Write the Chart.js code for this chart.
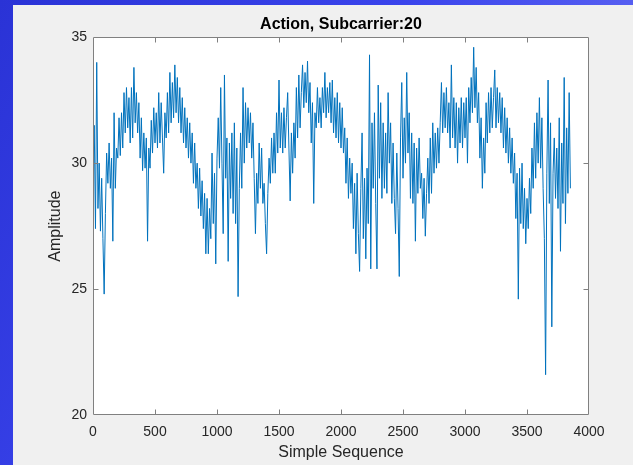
<!DOCTYPE html>
<html>
<head>
<meta charset="utf-8">
<script src="https://cdn.jsdelivr.net/npm/chart.js@4.4.1/dist/chart.umd.min.js"></script>
<style>
  html, body { margin: 0; padding: 0; width: 633px; height: 465px; overflow: hidden; }
  body { background: linear-gradient(120deg, #2a33d6 0%, #3a44ec 45%, #5b63f2 75%, #7a7cf4 100%); position: relative; }
  #panel { position: absolute; left: 13px; top: 5px; width: 620px; height: 460px; background: #f0f0f0; }
  #c { position: absolute; left: 0; top: 0; }
</style>
</head>
<body>
<div id="panel"></div>
<canvas id="c" width="633" height="465"></canvas>
<script>
// ---- data ----
const chartTitle = 'Action, Subcarrier:20';
const xAxisTitle = 'Simple Sequence';
const yAxisTitle = 'Amplitude';
const xTickRange = [0, 4000];
const xTickStep = 500;
const yTickRange = [20, 35];
const yTickStep = 5;
const sampleStep = 10; // one reading every 10 samples
const amplitude = [
  30.0,31.5,27.4,34.0,28.2,30.0,27.3,29.4,27.0,24.8,
  28.0,30.4,29.2,30.8,29.0,30.2,26.9,32.0,29.0,30.6,
  30.2,31.8,30.3,32.0,30.6,32.8,31.2,33.0,31.4,32.6,
  30.8,33.0,31.0,33.8,31.6,32.8,31.2,32.4,30.2,31.8,
  29.7,31.2,29.8,31.0,26.9,30.6,29.8,31.7,30.4,32.2,
  30.8,32.0,30.6,32.8,30.8,32.4,31.0,29.6,32.0,31.0,
  32.8,31.2,33.6,31.6,33.2,31.8,33.9,32.0,33.4,31.6,
  33.0,31.2,32.6,30.8,32.2,30.6,31.8,30.2,31.6,30.0,
  31.2,29.2,30.8,29.0,30.0,28.2,29.8,27.9,29.3,27.4,
  28.8,26.4,28.6,26.4,28.2,27.0,30.4,27.6,29.6,26.0,
  30.2,31.8,29.8,33.0,30.0,27.2,33.5,29.4,31.0,26.1,
  30.8,28.6,31.2,28.0,31.6,27.6,30.6,24.7,29.0,31.2,
  29.0,33.0,30.0,32.4,30.6,32.2,30.8,32.0,30.2,31.6,
  29.4,27.2,29.6,28.4,30.8,29.0,30.6,28.4,29.2,27.6,
  26.4,28.8,30.2,29.2,31.0,29.6,31.2,29.6,32.0,30.4,
  33.3,30.6,32.0,30.4,32.2,30.6,31.8,32.8,30.6,28.5,
  31.2,29.6,31.6,30.2,33.0,31.0,33.5,31.4,32.8,33.9,
  32.2,33.6,32.4,34.05,32.0,33.2,30.8,32.4,28.4,32.0,
  31.4,33.0,31.6,32.6,31.4,33.0,32.0,33.6,31.8,33.0,
  32.0,33.2,31.6,33.3,31.2,32.6,31.0,32.8,30.8,32.4,
  30.6,32.2,30.4,31.4,29.2,31.0,28.6,30.2,28.8,30.0,
  27.4,29.2,26.4,29.6,27.2,25.7,29.0,31.2,27.0,29.4,
  26.2,29.8,27.6,34.3,25.8,31.6,29.0,32.0,28.4,25.8,
  33.1,29.4,32.4,28.6,31.6,29.0,31.2,28.8,32.8,30.0,
  31.6,28.4,30.8,28.6,27.2,30.4,28.2,25.5,31.0,33.2,
  29.4,31.8,30.0,33.6,30.4,32.0,28.6,31.2,28.4,30.8,
  26.9,30.6,28.8,31.0,29.0,29.6,27.8,29.4,27.1,28.8,
  30.2,28.4,31.0,28.8,31.6,29.6,31.2,29.8,31.4,30.0,
  31.6,33.2,31.2,32.8,31.4,33.0,31.2,32.4,30.6,33.9,
  31.0,32.6,30.6,32.4,30.0,32.2,30.8,32.6,30.6,32.4,
  31.0,32.6,30.0,33.0,31.6,33.4,32.0,34.6,32.2,33.8,
  31.6,32.8,30.2,31.8,29.0,31.0,29.6,32.4,30.8,32.8,
  31.2,33.0,31.4,32.6,33.7,31.4,33.0,31.6,32.8,31.2,
  32.6,30.6,32.2,30.4,31.8,30.0,31.4,29.6,31.0,29.2,
  30.4,27.8,29.6,24.6,29.8,27.6,30.0,27.4,29.0,26.8,
  28.6,27.4,29.4,28.0,30.6,29.0,31.6,29.4,32.0,30.0,
  32.6,29.8,31.8,29.0,27.0,21.6,29.6,33.3,28.4,31.6,
  23.5,29.6,31.0,28.6,30.6,28.2,31.8,26.5,30.8,28.4,
  33.4,27.6,31.4,28.8,32.8,29.0
];

const points = amplitude.map((v, i) => ({ x: i * sampleStep, y: v }));
const FONT = '"Liberation Sans", Arial, Helvetica, sans-serif';
const TEXT = '#262626';

const boxPlugin = {
  id: 'matlabBox',
  beforeDraw(chart) {
    const { ctx, chartArea: a } = chart;
    ctx.save();
    ctx.fillStyle = '#ffffff';
    ctx.fillRect(a.left, a.top, a.right - a.left, a.bottom - a.top);
    ctx.restore();
  },
  afterDraw(chart) {
    const { ctx, chartArea: a, scales } = chart;
    ctx.save();
    ctx.strokeStyle = '#808080';
    ctx.lineWidth = 1;
    const L = Math.round(a.left) + 0.5, R = Math.round(a.right) - 0.5;
    const T = Math.round(a.top) + 0.5, B = Math.round(a.bottom) - 0.5;
    ctx.beginPath();
    ctx.rect(L, T, R - L, B - T);
    const tl = 5;
    scales.x.ticks.forEach(t => {
      if (t.value <= scales.x.min || t.value >= scales.x.max) return;
      const px = Math.round(scales.x.getPixelForValue(t.value)) + 0.5;
      ctx.moveTo(px, B); ctx.lineTo(px, B - tl);
      ctx.moveTo(px, T); ctx.lineTo(px, T + tl);
    });
    scales.y.ticks.forEach(t => {
      if (t.value <= scales.y.min || t.value >= scales.y.max) return;
      const py = Math.round(scales.y.getPixelForValue(t.value)) + 0.5;
      ctx.moveTo(L, py); ctx.lineTo(L + tl, py);
      ctx.moveTo(R, py); ctx.lineTo(R - tl, py);
    });
    ctx.stroke();
    ctx.restore();
  }
};

new Chart(document.getElementById('c'), {
  type: 'line',
  data: {
    datasets: [{
      data: points,
      borderColor: '#0072bd',
      borderWidth: 1,
      pointRadius: 0,
      tension: 0,
      fill: false
    }]
  },
  options: {
    responsive: false,
    animation: false,
    events: [],
    layout: { padding: { left: 13, right: 44, top: 5, bottom: 0 } },
    plugins: {
      legend: { display: false },
      tooltip: { enabled: false },
      title: {
        display: true,
        text: chartTitle,
        fullSize: false,
        color: '#000000',
        font: { family: FONT, size: 16, weight: 'bold' },
        padding: { top: 10, bottom: 3 }
      }
    },
    scales: {
      x: {
        type: 'linear',
        min: xTickRange[0], max: xTickRange[1],
        grid: { display: false, drawTicks: false },
        border: { display: false },
        ticks: { stepSize: xTickStep, padding: 9, maxRotation: 0, autoSkip: false, color: TEXT, font: { family: FONT, size: 14 }, callback: v => String(v) },
        title: { display: true, text: xAxisTitle, color: TEXT, font: { family: FONT, size: 16 }, padding: { top: 0, bottom: 3 } },
        afterFit(s) { s.height = 50; }
      },
      y: {
        type: 'linear',
        min: yTickRange[0], max: yTickRange[1],
        grid: { display: false, drawTicks: false },
        border: { display: false },
        ticks: { stepSize: yTickStep, padding: 6, color: TEXT, font: { family: FONT, size: 14 }, callback: v => String(v) },
        title: { display: true, text: yAxisTitle, color: TEXT, font: { family: FONT, size: 16 }, padding: { top: 33, bottom: 0 } },
        afterFit(s) { s.width = 80; }
      }
    }
  },
  plugins: [boxPlugin]
});
</script>
</body>
</html>
